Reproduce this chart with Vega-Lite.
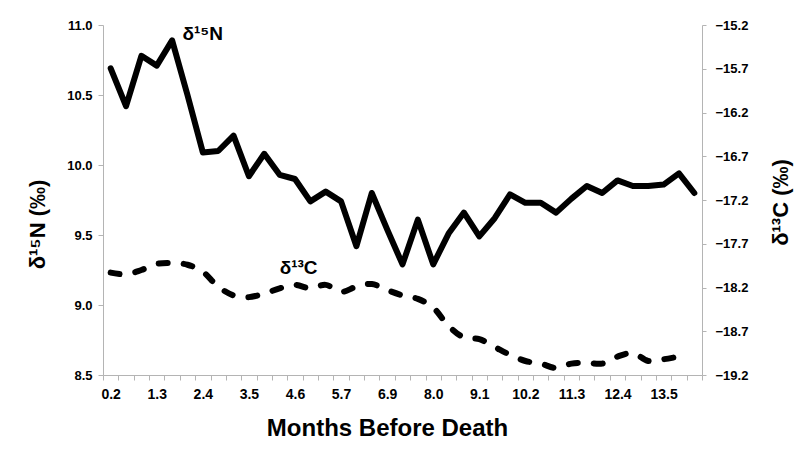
{
  "$schema": "https://vega.github.io/schema/vega-lite/v6.json",
  "width": 599,
  "height": 350,
  "autosize": {"type": "none"},
  "padding": {"left": 103, "top": 25, "right": 98, "bottom": 76},
  "background": "white",
  "config": {
    "view": {"stroke": null},
    "font": "Liberation Sans",
    "axis": {"grid": false, "domainColor": "#b4b4b4", "tickColor": "#b4b4b4", "labelColor": "#000000", "titleColor": "#000000", "labelFont": "Liberation Sans", "titleFont": "Liberation Sans", "labelFontWeight": "bold", "titleFontWeight": "bold", "domainWidth": 1, "tickWidth": 1}
  },
  "data": {"values": [
    {"m": "0.2", "N": 10.69, "C": -18.03},
    {"m": "0.6", "N": 10.42, "C": -18.05},
    {"m": "0.9", "N": 10.78, "C": -18.00},
    {"m": "1.3", "N": 10.71, "C": -17.93},
    {"m": "1.7", "N": 10.89, "C": -17.92},
    {"m": "2.0", "N": 10.50, "C": -17.94},
    {"m": "2.4", "N": 10.09, "C": -18.02},
    {"m": "2.8", "N": 10.10, "C": -18.19},
    {"m": "3.1", "N": 10.21, "C": -18.29},
    {"m": "3.5", "N": 9.92, "C": -18.31},
    {"m": "3.9", "N": 10.08, "C": -18.27},
    {"m": "4.2", "N": 9.93, "C": -18.21},
    {"m": "4.6", "N": 9.90, "C": -18.17},
    {"m": "5.0", "N": 9.74, "C": -18.21},
    {"m": "5.3", "N": 9.81, "C": -18.17},
    {"m": "5.7", "N": 9.74, "C": -18.25},
    {"m": "6.1", "N": 9.42, "C": -18.19},
    {"m": "6.5", "N": 9.80, "C": -18.16},
    {"m": "6.9", "N": 9.54, "C": -18.23},
    {"m": "7.2", "N": 9.29, "C": -18.29},
    {"m": "7.6", "N": 9.61, "C": -18.33},
    {"m": "8.0", "N": 9.29, "C": -18.43},
    {"m": "8.3", "N": 9.51, "C": -18.64},
    {"m": "8.7", "N": 9.66, "C": -18.77},
    {"m": "9.1", "N": 9.49, "C": -18.79},
    {"m": "9.4", "N": 9.62, "C": -18.88},
    {"m": "9.8", "N": 9.79, "C": -18.97},
    {"m": "10.2", "N": 9.73, "C": -19.04},
    {"m": "10.5", "N": 9.73, "C": -19.07},
    {"m": "10.9", "N": 9.66, "C": -19.12},
    {"m": "11.3", "N": 9.76, "C": -19.07},
    {"m": "11.6", "N": 9.85, "C": -19.06},
    {"m": "12.0", "N": 9.80, "C": -19.07},
    {"m": "12.4", "N": 9.89, "C": -18.99},
    {"m": "12.7", "N": 9.85, "C": -18.95},
    {"m": "13.1", "N": 9.85, "C": -19.04},
    {"m": "13.5", "N": 9.86, "C": -19.02},
    {"m": "13.8", "N": 9.94, "C": -18.99},
    {"m": "14.2", "N": 9.80}
  ]},
  "encoding": {
    "x": {
      "field": "m",
      "type": "ordinal",
      "bandPosition": 0.5,
      "scale": {"type": "band", "paddingInner": 0, "paddingOuter": 0,
        "domain": ["0.2","0.6","0.9","1.3","1.7","2.0","2.4","2.8","3.1","3.5","3.9","4.2","4.6","5.0","5.3","5.7","6.1","6.5","6.9","7.2","7.6","8.0","8.3","8.7","9.1","9.4","9.8","10.2","10.5","10.9","11.3","11.6","12.0","12.4","12.7","13.1","13.5","13.8","14.2"]},
      "axis": {
        "title": "Months Before Death",
        "labelExpr": "indexof(['0.2','1.3','2.4','3.5','4.6','5.7','6.9','8.0','9.1','10.2','11.3','12.4','13.5'], datum.value) >= 0 ? datum.value : ''",
        "labelAngle": 0,
        "labelOverlap": false,
        "tickBand": "extent",
        "tickSize": 5,
        "labelPadding": 7,
        "labelFontSize": 14,
        "titleFontSize": 24,
        "titleX": 284,
        "titleY": 53,
        "titleAlign": "center",
        "titleBaseline": "middle"
      }
    }
  },
  "layer": [
    {
      "layer": [
        {
          "mark": {"type": "line", "color": "#000000", "strokeWidth": 6, "strokeJoin": "round", "strokeCap": "round"},
          "encoding": {
            "y": {
              "field": "N", "type": "quantitative",
              "scale": {"domain": [8.5, 11], "nice": false, "zero": false},
              "axis": {
                "orient": "left",
                "values": [8.5, 9, 9.5, 10, 10.5, 11],
                "format": ".1f",
                "tickSize": 5,
                "labelPadding": 6,
                "labelFontSize": 13,
                "title": "δ¹⁵N (‰)",
                "titleFontSize": 22,
                "titleX": -66,
                "titleY": 199,
                "titleAngle": -90,
                "titleAlign": "center",
                "titleBaseline": "middle"
              }
            }
          }
        },
        {
          "data": {"values": [{"m": "2.0", "N": 10.936, "t": "δ¹⁵N"}]},
          "mark": {"type": "text", "align": "left", "baseline": "middle", "dx": -5, "fontSize": 19, "fontWeight": "bold", "color": "#000000", "font": "Liberation Sans"},
          "encoding": {
            "y": {"field": "N", "type": "quantitative", "title": "δ¹⁵N (‰)"},
            "text": {"field": "t"}
          }
        }
      ]
    },
    {
      "layer": [
        {
          "mark": {"type": "line", "color": "#000000", "strokeWidth": 6, "strokeDash": [9, 16], "strokeCap": "round", "interpolate": "catmull-rom"},
          "encoding": {
            "y": {
              "field": "C", "type": "quantitative",
              "scale": {"domain": [-19.2, -15.2], "nice": false, "zero": false},
              "axis": {
                "orient": "right",
                "values": [-19.2, -18.7, -18.2, -17.7, -17.2, -16.7, -16.2, -15.7, -15.2],
                "format": ".1f",
                "tickSize": 4,
                "labelPadding": 9,
                "labelFontSize": 13,
                "title": "δ¹³C (‰)",
                "titleFontSize": 22,
                "titleX": 78,
                "titleY": 177,
                "titleAngle": -90,
                "titleAlign": "center",
                "titleBaseline": "middle"
              }
            }
          }
        },
        {
          "data": {"values": [{"m": "4.2", "C": -17.977, "t": "δ¹³C"}]},
          "mark": {"type": "text", "align": "left", "baseline": "middle", "dx": 0, "fontSize": 19, "fontWeight": "bold", "color": "#000000", "font": "Liberation Sans"},
          "encoding": {
            "y": {"field": "C", "type": "quantitative", "title": "δ¹³C (‰)"},
            "text": {"field": "t"}
          }
        }
      ]
    }
  ],
  "resolve": {"scale": {"y": "independent"}}
}
